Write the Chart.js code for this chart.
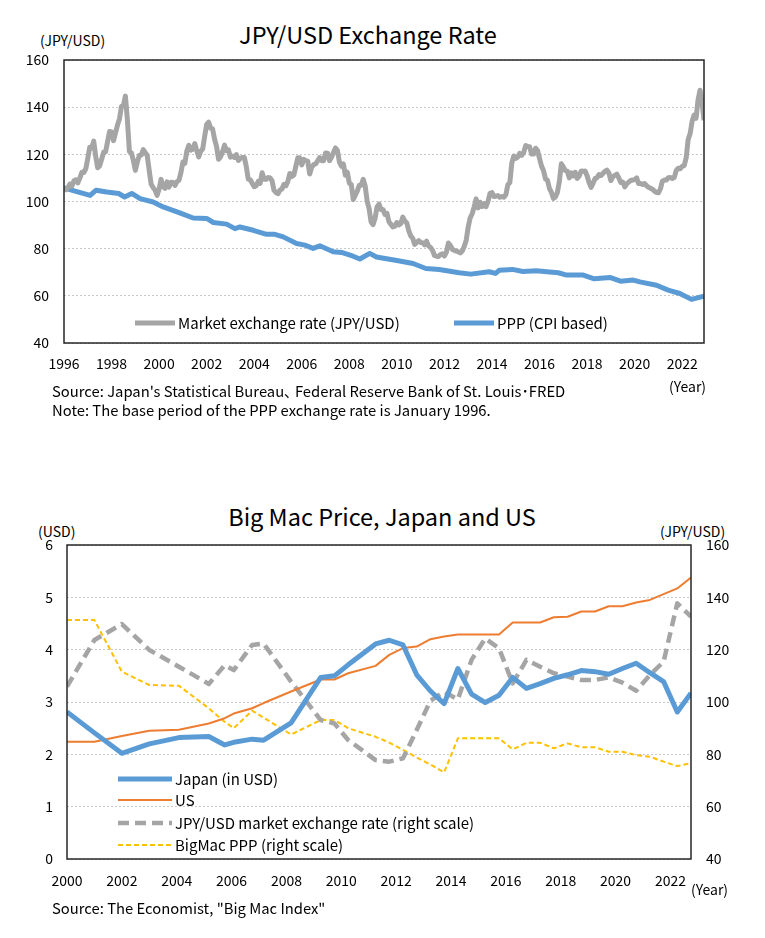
<!DOCTYPE html>
<html>
<head>
<meta charset="utf-8">
<title>JPY/USD and Big Mac</title>
<script src="https://cdn.jsdelivr.net/npm/chart.js@4.4.1/dist/chart.umd.min.js"></script>
<style>
body { margin: 0; background: #fff; }
#page { position: relative; width: 765px; height: 938px; font-family: "Noto Sans CJK JP", "Noto Sans", sans-serif; color: #000; }
.t { position: absolute; white-space: nowrap; line-height: 1; transform: translateY(-50%); font-size: 14px; }
.note { font-size: 14.8px; }
canvas { position: absolute; left: 0; }
</style>
</head>
<body>
<div id="page">
  <div class="t" style="left:0;width:736px;text-align:center;top:35px;font-size:23.5px">JPY/USD Exchange Rate</div>
  <div class="t" style="left:40px;top:40px">(JPY/USD)</div>
  <canvas id="fxChart" width="765" height="420" style="top:0"></canvas>
  <div class="t" style="left:669px;top:386px">(Year)</div>
  <div class="t note" style="left:52px;top:391px">Source: Japan's Statistical Bureau､ Federal Reserve Bank of St. Louis･FRED</div>
  <div class="t note" style="left:52px;top:410px">Note: The base period of the PPP exchange rate is January 1996.</div>

  <div class="t" style="left:0;width:764px;text-align:center;top:517px;font-size:23.5px">Big Mac Price, Japan and US</div>
  <div class="t" style="left:38px;top:531px">(USD)</div>
  <div class="t" style="left:660px;top:531px">(JPY/USD)</div>
  <canvas id="bigMacChart" width="765" height="468" style="top:470px"></canvas>
  <div class="t" style="left:691px;top:889px">(Year)</div>
  <div class="t note" style="left:52px;top:908px">Source: The Economist, "Big Mac Index"</div>
</div>
<script>
// ---- chart 1: monthly JPY/USD, Jan 1996 - Dec 2022 ----
const marketStartYear = 1996;
const marketRate = [
  105.8, 105.0, 105.9, 107.4, 106.5, 108.8, 109.2, 107.9, 109.9, 112.4, 112.3, 113.9, // 1996
  118.2, 123.0, 122.7, 125.6, 119.2, 114.3, 115.1, 117.9, 120.9, 121.1, 125.4, 129.7, // 1997
  129.5, 125.8, 129.1, 132.4, 135.0, 140.3, 140.8, 144.7, 134.5, 121.3, 120.6, 117.4, // 1998
  113.2, 116.7, 119.5, 119.7, 122.0, 120.7, 119.5, 113.2, 107.3, 105.9, 104.7, 102.6, // 1999
  105.3, 109.4, 106.3, 105.6, 108.3, 106.1, 108.2, 108.1, 106.8, 108.4, 109.0, 112.2, // 2000
  116.7, 116.2, 121.5, 123.8, 121.8, 122.2, 124.6, 121.5, 118.9, 121.3, 122.3, 127.6, // 2001
  132.7, 133.6, 131.1, 130.8, 126.4, 123.3, 117.9, 118.9, 121.1, 123.9, 121.6, 121.9, // 2002
  118.8, 119.3, 118.7, 119.9, 117.4, 118.3, 118.7, 118.7, 114.8, 109.5, 109.2, 107.7, // 2003
  106.3, 106.7, 108.5, 107.7, 112.2, 109.4, 109.4, 110.2, 110.0, 108.8, 104.7, 103.8, // 2004
  103.3, 104.9, 105.3, 107.3, 106.7, 108.6, 111.9, 110.6, 111.2, 114.9, 118.5, 118.5, // 2005
  115.5, 117.9, 117.3, 117.1, 111.7, 114.5, 115.6, 115.9, 117.2, 118.6, 117.3, 117.3, // 2006
  120.6, 120.5, 117.3, 118.8, 120.8, 122.7, 121.6, 116.7, 115.0, 115.9, 111.1, 112.4, // 2007
  107.8, 107.2, 100.8, 102.7, 104.4, 106.9, 106.9, 109.4, 106.6, 100.1, 96.9, 91.3,   // 2008
  90.2, 92.9, 97.7, 98.9, 96.6, 96.6, 94.5, 95.0, 91.4, 90.3, 89.2, 89.5,             // 2009
  91.1, 90.1, 90.7, 93.4, 91.8, 90.9, 87.6, 85.4, 84.4, 81.8, 82.6, 83.4,             // 2010
  82.6, 82.5, 81.6, 83.2, 81.1, 80.5, 79.3, 77.1, 76.8, 76.7, 77.5, 77.8,             // 2011
  76.9, 78.5, 82.4, 81.4, 79.7, 79.3, 79.0, 78.7, 78.2, 79.0, 80.9, 83.6,             // 2012
  89.2, 93.1, 94.8, 97.7, 101.1, 97.3, 99.7, 97.9, 99.1, 97.8, 100.1, 103.5,          // 2013
  103.8, 102.1, 102.3, 102.5, 101.8, 102.1, 101.8, 102.9, 107.1, 108.0, 116.3, 119.3, // 2014
  118.3, 118.8, 120.4, 119.6, 120.8, 123.7, 123.3, 123.2, 120.1, 120.1, 122.6, 121.6, // 2015
  118.2, 115.0, 113.1, 109.6, 109.0, 105.5, 103.9, 101.3, 101.9, 103.8, 108.5, 116.0, // 2016
  114.7, 113.1, 112.9, 110.0, 112.2, 110.9, 112.4, 109.8, 110.8, 112.9, 112.8, 112.9, // 2017
  110.9, 108.0, 106.0, 107.7, 109.7, 110.1, 111.4, 111.0, 111.9, 112.8, 113.3, 112.1, // 2018
  108.9, 110.5, 111.1, 111.6, 110.0, 108.1, 108.3, 106.2, 107.5, 108.2, 108.9, 109.1, // 2019
  109.3, 110.0, 107.6, 107.6, 107.2, 107.6, 106.7, 106.0, 105.6, 105.2, 104.4, 103.8, // 2020
  103.7, 105.4, 108.6, 109.1, 109.1, 110.1, 110.2, 109.8, 110.2, 113.2, 114.1, 113.9, // 2021
  114.9, 115.2, 118.5, 126.3, 128.8, 134.0, 136.7, 135.3, 143.1, 147.2, 142.1, 134.5  // 2022
];

// PPP (CPI based) at its visible bends
const pppDates = [
  1996.0, 1996.5, 1997.1, 1997.35, 1997.8, 1998.3, 1998.55, 1998.85, 1999.2, 1999.75,
  2000.17, 2000.87, 2001.43, 2002.0, 2002.28, 2002.84, 2003.19, 2003.4, 2003.96, 2004.52,
  2004.87, 2005.22, 2005.78, 2006.13, 2006.48, 2006.76, 2007.32, 2007.67, 2008.16, 2008.44,
  2008.86, 2009.14, 2009.63, 2010.0, 2010.68, 2011.22, 2011.78, 2012.62, 2013.11, 2013.88,
  2014.15, 2014.3, 2014.86, 2015.3, 2015.88, 2016.3, 2016.79, 2017.14, 2017.84, 2018.3,
  2018.96, 2019.4, 2019.94, 2020.22, 2020.92, 2021.41, 2021.9, 2022.39, 2022.917
];
const pppValues = [
  105.8, 104.3, 102.6, 104.8, 104.0, 103.4, 101.9, 103.4, 101.2, 99.8,
  97.7, 95.2, 93.0, 92.8, 91.1, 90.4, 88.5, 89.2, 87.8, 86.1,
  86.1, 85.0, 82.2, 81.5, 80.1, 81.2, 78.7, 78.4, 76.8, 75.6,
  78.0, 76.5, 75.6, 75.0, 73.7, 71.6, 71.2, 69.8, 69.2, 70.2,
  69.5, 70.8, 71.2, 70.3, 70.6, 70.2, 69.8, 68.8, 68.8, 67.2,
  67.8, 66.2, 66.7, 65.9, 64.5, 62.4, 61.0, 58.5, 59.9
];
const fxTickYears = [1996, 1998, 2000, 2002, 2004, 2006, 2008, 2010, 2012, 2014, 2016, 2018, 2020, 2022];

// ---- chart 2: Big Mac index survey dates (decimal years) ----
const bmDates = [
  2000.25, 2001.25, 2002.25, 2003.25, 2004.33, 2005.42, 2006.0, 2006.33, 2007.0, 2007.42,
  2008.42, 2009.5, 2010.0, 2010.5, 2011.5, 2012.0, 2012.5, 2013.0, 2013.5, 2014.0,
  2014.5, 2015.0, 2015.5, 2016.0, 2016.5, 2017.0, 2017.5, 2018.0, 2018.5, 2019.0,
  2019.5, 2020.0, 2020.5, 2021.0, 2021.5, 2022.0, 2022.5, 2023.0
];
const japanUsd = [
  2.81, 2.41, 2.02, 2.20, 2.32, 2.34, 2.18, 2.23, 2.29, 2.27,
  2.60, 3.47, 3.50, 3.71, 4.11, 4.18, 4.09, 3.52, 3.21, 2.97,
  3.64, 3.15, 2.99, 3.13, 3.47, 3.26, 3.35, 3.45, 3.52, 3.60,
  3.58, 3.53, 3.64, 3.74, 3.56, 3.39, 2.81, 3.17
];
const usPrice = [
  2.24, 2.24, 2.35, 2.45, 2.47, 2.59, 2.69, 2.78, 2.88, 2.98,
  3.20, 3.43, 3.43, 3.55, 3.69, 3.90, 4.03, 4.06, 4.20, 4.25,
  4.29, 4.29, 4.29, 4.29, 4.52, 4.52, 4.52, 4.62, 4.63, 4.73,
  4.73, 4.83, 4.83, 4.90, 4.95, 5.06, 5.17, 5.38
];
const fxAtSurvey = [
  105.9, 123.7, 129.8, 119.9, 113.5, 106.9, 114.1, 112.2, 121.8, 122.3,
  107.8, 93.1, 91.8, 85.5, 77.8, 77.2, 78.5, 89.3, 100.5, 103.9,
  101.0, 116.1, 124.3, 120.5, 107.1, 116.1, 113.5, 111.0, 109.7, 108.4,
  108.4, 109.4, 107.4, 104.3, 110.3, 115.4, 137.7, 132.6
];
const bigMacPpp = [
  131.3, 131.3, 111.6, 106.5, 106.2, 97.6, 92.4, 90.0, 96.7, 94.0,
  87.6, 93.1, 93.1, 90.0, 86.7, 84.5, 81.7, 78.8, 76.1, 73.1,
  86.1, 86.1, 86.1, 86.1, 81.9, 84.4, 84.4, 82.3, 84.2, 82.7,
  82.7, 81.0, 81.0, 79.7, 79.1, 77.2, 75.5, 76.6
];
const bmTickYears = [2000, 2002, 2004, 2006, 2008, 2010, 2012, 2014, 2016, 2018, 2020, 2022];

const FONT = '"Noto Sans CJK JP", "Noto Sans", sans-serif';
Chart.defaults.font.family = FONT;
Chart.defaults.font.size = 14;
Chart.defaults.color = '#000';

const plotBox = {
    id: 'plotBox',
    afterDraw: (chart) => {
        const { ctx, chartArea: a } = chart;
        ctx.save();
        ctx.strokeStyle = '#262626';
        ctx.lineWidth = 1.5;
        ctx.strokeRect(a.left, a.top, a.right - a.left, a.bottom - a.top);
        ctx.restore();
    },
};

// legend drawn inside the plot area, like the Excel originals
const insideLegend = {
    id: 'insideLegend',
    afterDraw: (chart, args, opts) => {
        if (!opts.items) return;
        const ctx = chart.ctx;
        ctx.save();
        ctx.font = `${opts.size}px ${FONT}`;
        ctx.textBaseline = 'middle';
        ctx.fillStyle = '#000';
        opts.items.forEach(it => {
            const ds = chart.data.datasets[it.index];
            ctx.beginPath();
            ctx.strokeStyle = ds.borderColor;
            ctx.lineWidth = ds.borderWidth;
            ctx.setLineDash(ds.borderDash || []);
            ctx.moveTo(it.x, it.y);
            ctx.lineTo(it.x + it.len, it.y);
            ctx.stroke();
            ctx.setLineDash([]);
            ctx.fillText(ds.label, it.x + it.len + 3, it.y);
        });
        ctx.restore();
    },
};

const fixedTicks = (values) => (scale) => {
    scale.ticks = values.map(v => ({ value: v }));
};

const line = { pointRadius: 0, tension: 0, fill: false, borderCapStyle: 'butt', borderJoinStyle: 'round' };

new Chart(document.getElementById('fxChart'), {
    type: 'line',
    data: {
        datasets: [{
            ...line,
            label: 'Market exchange rate (JPY/USD)',
            data: marketRate.map((v, i) => ({ x: marketStartYear + i / 12, y: v })),
            borderColor: '#A5A5A5',
            borderWidth: 5,
        }, {
            ...line,
            label: 'PPP (CPI based)',
            data: pppDates.map((d, i) => ({ x: d, y: pppValues[i] })),
            borderColor: '#5B9BD5',
            borderWidth: 5,
        }]
    },
    options: {
        responsive: false,
        animation: false,
        layout: { padding: { top: 60, right: 61, bottom: 47, left: 0 } },
        plugins: {
            legend: { display: false },
            tooltip: { enabled: false },
            insideLegend: {
                size: 15,
                items: [
                    { index: 0, x: 135, y: 323, len: 40 },
                    { index: 1, x: 454, y: 323, len: 40 },
                ]
            }
        },
        scales: {
            x: {
                type: 'linear',
                min: marketStartYear,
                max: marketStartYear + (marketRate.length - 1) / 12,
                afterBuildTicks: fixedTicks(fxTickYears),
                afterFit: (s) => { s.height = 30; },
                grid: { display: false, drawTicks: false },
                border: { display: false },
                ticks: { padding: 12, maxRotation: 0, autoSkip: false, callback: v => String(v) },
            },
            y: {
                min: 40,
                max: 160,
                afterFit: (s) => { s.width = 64; },
                grid: { color: '#c8c8c8', drawTicks: false },
                border: { display: false, dash: [2, 2] },
                ticks: { stepSize: 20, padding: 15 },
            }
        }
    },
    plugins: [plotBox, insideLegend]
});

new Chart(document.getElementById('bigMacChart'), {
    type: 'line',
    data: {
        datasets: [{
            ...line,
            label: 'Japan (in USD)',
            data: bmDates.map((d, i) => ({ x: d, y: japanUsd[i] })),
            borderColor: '#5B9BD5',
            borderWidth: 5,
            yAxisID: 'y',
        }, {
            ...line,
            label: 'US',
            data: bmDates.map((d, i) => ({ x: d, y: usPrice[i] })),
            borderColor: '#ED7D31',
            borderWidth: 2,
            yAxisID: 'y',
        }, {
            ...line,
            label: 'JPY/USD market exchange rate (right scale)',
            data: bmDates.map((d, i) => ({ x: d, y: fxAtSurvey[i] })),
            borderColor: '#A5A5A5',
            borderWidth: 4.5,
            borderDash: [11, 6],
            yAxisID: 'y2',
        }, {
            ...line,
            label: 'BigMac PPP (right scale)',
            data: bmDates.map((d, i) => ({ x: d, y: bigMacPpp[i] })),
            borderColor: '#FFC000',
            borderWidth: 2,
            borderDash: [5, 3],
            yAxisID: 'y2',
        }]
    },
    options: {
        responsive: false,
        animation: false,
        layout: { padding: { top: 75, right: 0, bottom: 49, left: 0 } },
        plugins: {
            legend: { display: false },
            tooltip: { enabled: false },
            insideLegend: {
                size: 15,
                items: [
                    { index: 0, x: 118, y: 309, len: 54 },
                    { index: 1, x: 118, y: 330, len: 54 },
                    { index: 2, x: 118, y: 353, len: 54 },
                    { index: 3, x: 118, y: 375, len: 54 },
                ]
            }
        },
        scales: {
            x: {
                type: 'linear',
                min: bmDates[0],
                max: bmDates[bmDates.length - 1],
                afterBuildTicks: fixedTicks(bmTickYears.map(y => y + 0.25)),
                afterFit: (s) => { s.height = 30; },
                grid: { display: false, drawTicks: false },
                border: { display: false },
                ticks: { padding: 13, maxRotation: 0, autoSkip: false, callback: v => String(Math.floor(v)) },
            },
            y: {
                position: 'left',
                min: 0,
                max: 6,
                afterFit: (s) => { s.width = 67; },
                grid: { color: '#c8c8c8', drawTicks: false },
                border: { display: false, dash: [2, 2] },
                ticks: { stepSize: 1, padding: 14 },
            },
            y2: {
                position: 'right',
                min: 40,
                max: 160,
                afterFit: (s) => { s.width = 74; },
                grid: { drawOnChartArea: false, drawTicks: false },
                border: { display: false },
                ticks: { stepSize: 20, padding: 15 },
            }
        }
    },
    plugins: [plotBox, insideLegend]
});
</script>
</body>
</html>
